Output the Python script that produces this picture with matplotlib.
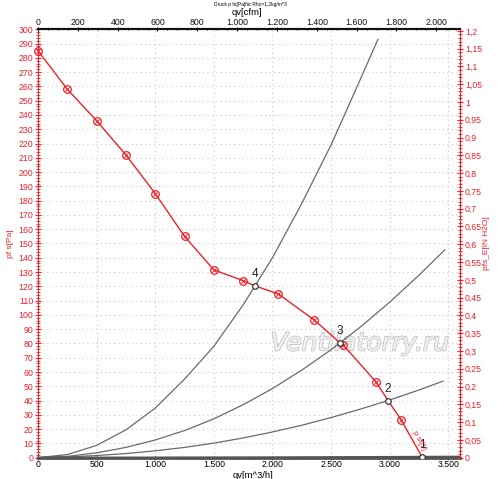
import matplotlib
matplotlib.use("Agg")
import matplotlib.pyplot as plt
import matplotlib.patheffects as pe
from matplotlib.ticker import FixedLocator, MultipleLocator, FuncFormatter

plt.rcParams["font.family"] = ["Liberation Sans", "DejaVu Sans"]

# ---- data ----
fan_q = [0, 250, 500, 750, 1000, 1250, 1500, 1750, 1851, 2050, 2355, 2577, 2603, 2884, 2986, 3097, 3280]
fan_p = [285, 258, 236, 212, 185, 155, 131.5, 124, 120.3, 114.7, 96.5, 80.4, 79, 53, 40, 26.6, 0]
marker_q = [0, 250, 500, 750, 1000, 1250, 1500, 1750, 2050, 2355, 2603, 2884, 3097]
marker_p = [285, 258, 236, 212, 185, 155, 131.5, 124, 114.7, 96.5, 79, 53, 26.6]

sys4_q = [0, 250, 500, 750, 1000, 1250, 1500, 1750, 2000, 2250, 2500, 2750, 2900]
sys4_p = [0, 2.2, 8.6, 19.5, 34.7, 55, 78, 107, 140, 178, 219, 265, 293]
sys3_q = [0, 250, 500, 750, 1000, 1250, 1500, 1750, 2000, 2250, 2500, 2750, 3000, 3250, 3470]
sys3_p = [0, 0.9, 3.4, 7.2, 12.4, 19, 27.2, 37.1, 48.4, 61.3, 75.6, 91.5, 108.9, 127.8, 145.5]
sys2_q = [0, 250, 500, 750, 1000, 1250, 1500, 1750, 2000, 2250, 2500, 2750, 3000, 3250, 3455]
sys2_p = [0, 0.5, 1.5, 2.9, 4.8, 7.2, 10.2, 13.8, 18, 22.7, 28.1, 34, 40.4, 47.4, 53.6]
sys1_q = [0, 1000, 2000, 3000, 3600]
sys1_p = [0, 0.05, 0.2, 0.45, 0.65]

op_labels = ["1", "2", "3", "4"]
op_q = [3277, 2986, 2577, 1851]
op_p = [0.5, 40, 80.4, 120.3]

bottom_ticks = [0, 500, 1000, 1500, 2000, 2500, 3000, 3500]
top_ticks_cfm = [0, 200, 400, 600, 800, 1000, 1200, 1400, 1600, 1800, 2000]
left_ticks = list(range(0, 301, 10))
right_ticks = [i * 0.05 for i in range(25)]

CFM = 1.699       # m3/h per cfm
INH2O = 249.09    # Pa per inch H2O
RED = "#e8232b"
GRID = "#c8c8c8"
TS = 6.3

def dotfmt(v, pos=None):
    return f"{int(round(v)):,}".replace(",", ".")

def commafmt(v, pos=None):
    s = f"{v:.2f}".rstrip("0").rstrip(".")
    return s.replace(".", ",")

fig = plt.figure(figsize=(5.0, 4.79), dpi=100)
ax = fig.add_axes([0.076, 0.0445, 0.844, 0.8943])
ax.set_xlim(0, 3600)
ax.set_ylim(0, 300)

# grid
for q in bottom_ticks:
    ax.axvline(q, color=GRID, lw=0.8, ls=(0, (1, 3)), zorder=0)
for p in left_ticks:
    ax.axhline(p, color=GRID, lw=0.8, ls=(0, (1, 3)), zorder=0)

# watermark
ax.text(2745, 80, "Ventilatorry.ru", fontsize=18, style="italic", color="#f2f2f2",
        ha="center", va="center", zorder=1, family="DejaVu Sans",
        path_effects=[pe.withStroke(linewidth=1.2, foreground="#c4c4c4")])

# system curves
for q, p in [(sys4_q, sys4_p), (sys3_q, sys3_p), (sys2_q, sys2_p)]:
    ax.plot(q, p, color="#6a6a6a", lw=0.9, zorder=2)
ax.plot(sys1_q, sys1_p, color="#555555", lw=1.6, zorder=2, clip_on=False)

# fan curve
ax.plot(fan_q, fan_p, color=RED, lw=1.0, zorder=3)
ax.plot(marker_q, marker_p, ls="none", marker="o", ms=5.5, mfc="none", mec=RED, mew=0.9, zorder=4, clip_on=False)
ax.plot(marker_q, marker_p, ls="none", marker="x", ms=2.5, mec=RED, mew=0.7, zorder=4, clip_on=False)

# operating points
ax.plot(op_q, op_p, ls="none", marker="o", ms=4, mfc="white", mec="#222222", mew=0.8, zorder=5)
for lab, q, p in zip(op_labels, op_q, op_p):
    ax.text(q, p + 4.0, lab, fontsize=8.5, ha="center", va="bottom", color="#222222", zorder=6)

ax.text(3250, 12, "p sf[1]", fontsize=5.5, color=RED, rotation=-62, ha="center", va="center", zorder=6)

# left axis
ax.yaxis.set_major_locator(FixedLocator(left_ticks))
ax.yaxis.set_minor_locator(MultipleLocator(2))
ax.tick_params(axis="y", which="both", colors=RED, labelcolor=RED, labelsize=TS, direction="inout")
ax.tick_params(axis="y", which="major", length=5, width=0.8, pad=1)
ax.tick_params(axis="y", which="minor", length=3, width=0.6)
ax.set_ylabel("pf s[Pa]", color=RED, fontsize=6, labelpad=3)

# bottom axis
ax.xaxis.set_major_locator(FixedLocator(bottom_ticks))
ax.xaxis.set_major_formatter(FuncFormatter(dotfmt))
ax.xaxis.set_minor_locator(MultipleLocator(100))
ax.tick_params(axis="x", which="both", colors="#444444", labelcolor="black", labelsize=TS, direction="inout")
ax.tick_params(axis="x", which="major", length=3, pad=0.5)
ax.tick_params(axis="x", which="minor", length=2)
ax.spines["left"].set_color(RED)
ax.spines["bottom"].set_color("#555555")
ax.spines["bottom"].set_linewidth(2.0)
ax.spines["top"].set_color("#111111")
ax.spines["top"].set_linewidth(1.5)
ax.spines["right"].set_color(RED)

# right axis
axr = ax.twinx()
axr.set_ylim(0, 300 / INH2O)
axr.yaxis.set_major_locator(FixedLocator(right_ticks))
axr.yaxis.set_major_formatter(FuncFormatter(commafmt))
axr.yaxis.set_minor_locator(MultipleLocator(0.01))
axr.tick_params(axis="y", which="both", colors=RED, labelcolor=RED, labelsize=TS, direction="inout")
axr.tick_params(axis="y", which="major", length=5, width=0.8, pad=1)
axr.tick_params(axis="y", which="minor", length=3, width=0.6)
axr.set_ylabel("pfs_E[IN H2O]", color=RED, fontsize=6, rotation=90, labelpad=1)
for s in ["left", "bottom", "top"]:
    axr.spines[s].set_visible(False)
axr.spines["right"].set_color(RED)

# top axis (cfm)
axt = ax.twiny()
axt.set_xlim(0, 3600 / CFM)
axt.xaxis.set_major_locator(FixedLocator(top_ticks_cfm))
axt.xaxis.set_major_formatter(FuncFormatter(dotfmt))
axt.xaxis.set_minor_locator(MultipleLocator(50))
axt.tick_params(axis="x", which="both", colors="#111111", labelsize=TS, direction="inout")
axt.tick_params(axis="x", which="major", length=3, pad=0.5)
axt.tick_params(axis="x", which="minor", length=2)
for s in ["left", "bottom", "right"]:
    axt.spines[s].set_visible(False)
axt.spines["top"].set_color("#111111")
axt.spines["top"].set_linewidth(1.5)

fig.text(0.494, 0.9745, "qv[cfm]", fontsize=6.8, ha="center", va="center")
fig.text(0.466, 0.008, "qv[m^3/h]", fontsize=6.8, ha="left", va="center")
fig.text(0.5, 0.991, "Druck p fa[Pa]für Rho=1,2kg/m^3", fontsize=3.5, ha="center", va="center")

fig.savefig("out.png", dpi=100)
